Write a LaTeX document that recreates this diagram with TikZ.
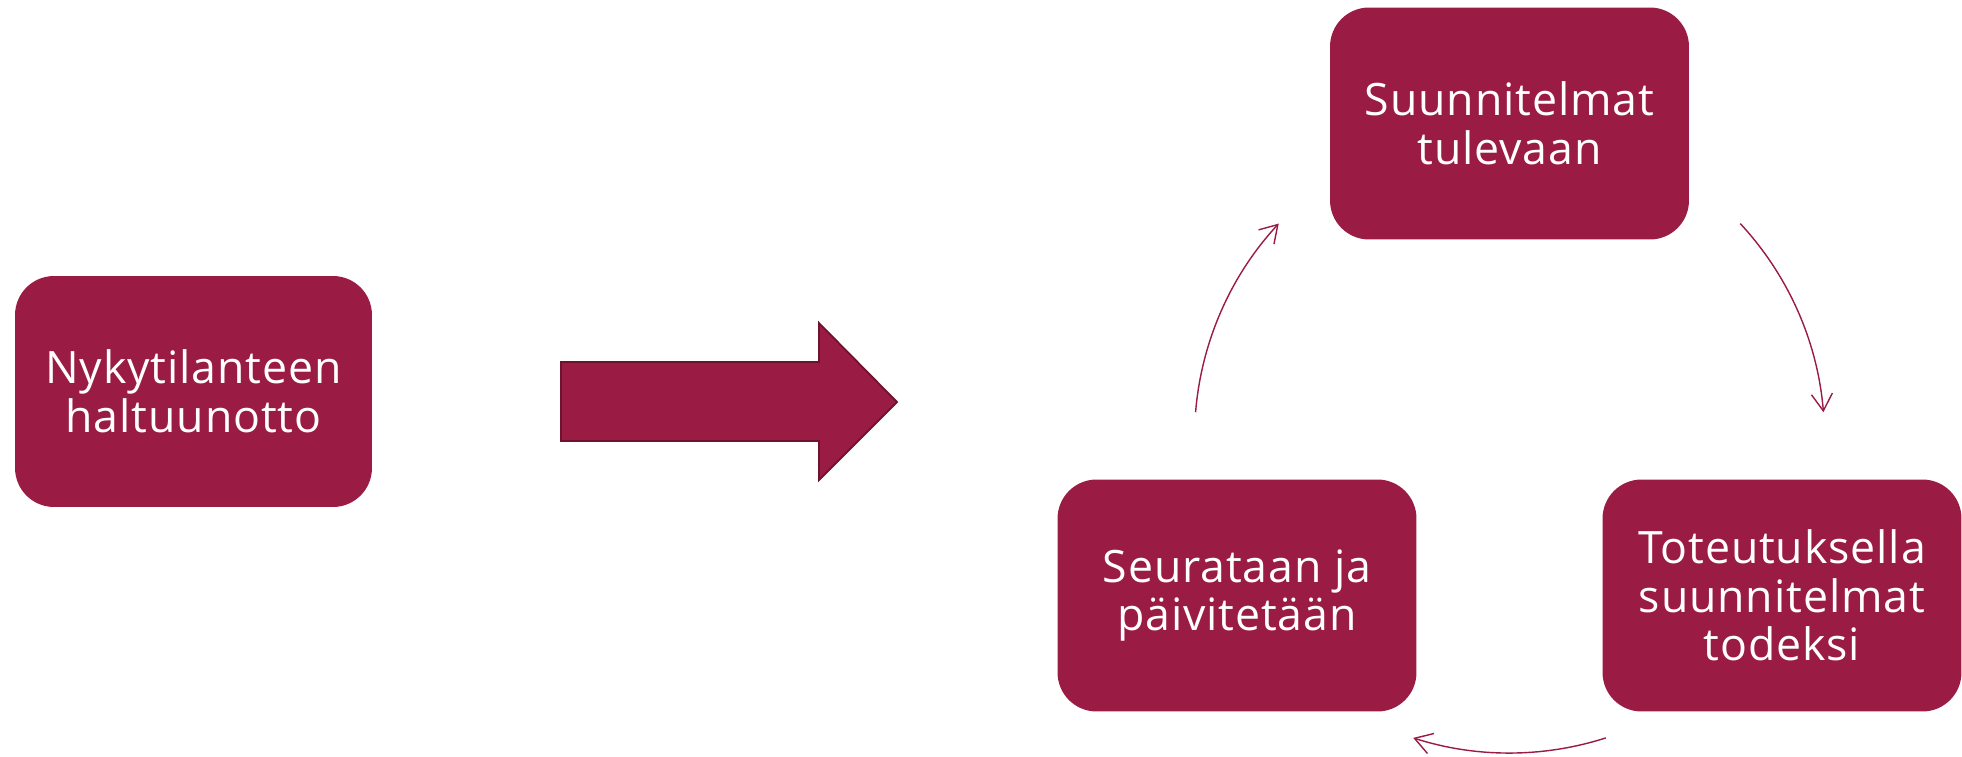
\documentclass[tikz,border=0pt]{standalone}
\usepackage{fontspec}
\setmainfont[LetterSpace=2]{Open Sans}
\usetikzlibrary{arrows.meta}

\definecolor{viini}{RGB}{154,27,67}
\definecolor{viinitumma}{RGB}{110,18,46}

\begin{document}
\begin{tikzpicture}[x=0.02cm, y=-0.02cm]
        % styles
        \tikzstyle{laatikko}=[rectangle, rounded corners=0.78cm, fill=viini, text=white,
                minimum width=7.18cm, minimum height=4.64cm, align=center,
                font=\fontsize{25.4}{27.6}\selectfont]
        \tikzstyle{kierto}=[viini, line width=0.8pt, -{Straight Barb[length=0.34cm, width=0.42cm]}]

        \useasboundingbox (0,0) rectangle (1962,757);

        % boxes
        \node[laatikko, minimum width=7.14cm, minimum height=4.62cm] (nyky) at (193.5,391.5) {Nykytilanteen\\haltuunotto};
        \node[laatikko] (suunn) at (1509.5,123.5) {Suunnitelmat\\tulevaan};
        \node[laatikko] (toteutus) at (1782,595.5) {Toteutuksella\\suunnitelmat\\todeksi};
        \node[laatikko] (seuranta) at (1237,595.5) {Seurataan ja\\päivitetään};

        % big arrow
        \draw[fill=viini, draw=viinitumma, line width=1pt]
                (561,362) -- (819,362) -- (819,323) -- (897,402) -- (819,480)
                -- (819,441) -- (561,441) -- cycle;

        % cycle arrows
        \coordinate (cyc) at (1509.5,438);
        \draw[kierto] (cyc) ++(184.7:315) arc[start angle=184.7, end angle=222.9, radius=315];
        \draw[kierto] (cyc) ++(317.1:315) arc[start angle=317.1, end angle=355.3, radius=315];
        \draw[kierto] (cyc) ++(72.2:315) arc[start angle=72.2, end angle=107.8, radius=315];
\end{tikzpicture}
\end{document}
